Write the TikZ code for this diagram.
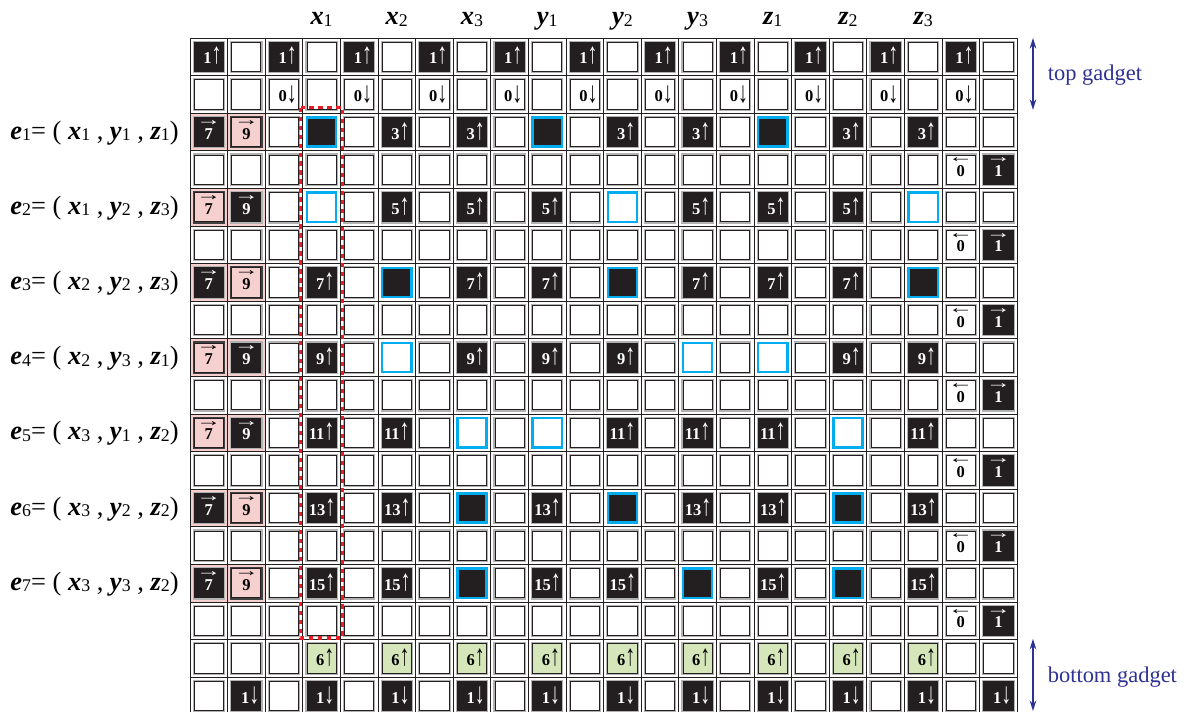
\documentclass[tikz,border=0pt]{standalone}
\usepackage{fontspec}
\usepackage{graphicx}
\setmainfont{Liberation Serif}
\usetikzlibrary{arrows.meta, calc}

\definecolor{cellblack}{RGB}{35,31,32}
\definecolor{pinkcell}{RGB}{245,208,206}
\definecolor{greencell}{RGB}{213,231,186}
\definecolor{cyanedge}{RGB}{0,174,239}
\definecolor{gadgetblue}{RGB}{46,49,146}
\definecolor{framered}{RGB}{237,28,36}

% переменная с индексом
\newcommand{\vsub}[2]{\textbf{\textit{#1}}\raisebox{-1pt}{\fontsize{13.5}{13.5}\selectfont #2}}
% вытянутые стрелки
\newcommand{\upar}{\scalebox{1.2}[1.8]{↑}}
\newcommand{\dnar}{\raisebox{-0.5pt}{\scalebox{1.2}[1.8]{↓}}}
% цифра со стрелкой сверху
\newcommand{\ovarr}[2]{\ooalign{\hfil#2\hfil\cr\hfil\raisebox{10.5pt}{\fontsize{10}{10}\selectfont\scalebox{1.9}[1.3]{#1}}\hfil\cr}}

\begin{document}
\begin{tikzpicture}[
        >={Stealth[length=8pt, width=5pt]},
        cell/.style={minimum size=0.775cm, inner sep=0pt, line width=0.7pt},
        box/.style={cell, fill=white, draw=cellblack, preaction={draw=gray!60, line width=2.6pt}},
        blk/.style={box, fill=cellblack, text=white},
        pnk/.style={cell, fill=pinkcell, draw=cellblack, preaction={draw=black!75, line width=2.6pt}},
        grn/.style={box, fill=greencell},
        hit/.style={cell, fill=white, draw=cyanedge, line width=1.8pt},
        num/.style={text width=0.68cm, align=right, text height=0.45cm, text depth=0.07cm, font=\fontsize{12.5}{13}\selectfont\bfseries},
        dirn/.style={text height=0.45cm, text depth=0.07cm, font=\fontsize{12.5}{13}\selectfont\bfseries},
        gadget/.style={<->, gadgetblue, line width=1.1pt},
        gadgetlabel/.style={anchor=base west, text=gadgetblue, font=\fontsize{17}{17}\selectfont},
        collabel/.style={anchor=base, font=\fontsize{20}{20}\selectfont},
        edgelabel/.style={anchor=base east, font=\fontsize{20}{20}\selectfont}
    ]

        \useasboundingbox (-5.053,1.011) rectangle (26.463,-17.899);

% Подписи столбцов
        \foreach \cl/\v/\s in {3/x/1, 5/x/2, 7/x/3, 9/y/1, 11/y/2, 13/y/3, 15/z/1, 17/z/2, 19/z/3}
            \node[collabel] (lab-\v\s) at (\cl+0.5,0.35) {\vsub{\v}{\s}};

% Подписи рёбер
        \node[edgelabel] (e1) at (-0.18,-2.69) {\vsub{e}{1}= ( \vsub{x}{1} , \vsub{y}{1} , \vsub{z}{1})};
        \node[edgelabel] (e2) at (-0.18,-4.69) {\vsub{e}{2}= ( \vsub{x}{1} , \vsub{y}{2} , \vsub{z}{3})};
        \node[edgelabel] (e3) at (-0.18,-6.69) {\vsub{e}{3}= ( \vsub{x}{2} , \vsub{y}{2} , \vsub{z}{3})};
        \node[edgelabel] (e4) at (-0.18,-8.69) {\vsub{e}{4}= ( \vsub{x}{2} , \vsub{y}{3} , \vsub{z}{1})};
        \node[edgelabel] (e5) at (-0.18,-10.69) {\vsub{e}{5}= ( \vsub{x}{3} , \vsub{y}{1} , \vsub{z}{2})};
        \node[edgelabel] (e6) at (-0.18,-12.69) {\vsub{e}{6}= ( \vsub{x}{3} , \vsub{y}{2} , \vsub{z}{2})};
        \node[edgelabel] (e7) at (-0.18,-14.69) {\vsub{e}{7}= ( \vsub{x}{3} , \vsub{y}{3} , \vsub{z}{2})};

% Верхний гаджет
        \foreach \cl in {0,2,...,20}{
            \pgfmathtruncatemacro\nx{\cl+1}
            \node[blk, num] (c-0-\cl) at (\cl+0.5,-0.5) {1\upar};
            \node[box] (c-0-\nx) at (\nx+0.5,-0.5) {};
            \ifnum\cl>0
                \node[box, num] (c-1-\cl) at (\cl+0.5,-1.5) {0\dnar};
            \else
                \node[box] (c-1-\cl) at (\cl+0.5,-1.5) {};
            \fi
            \node[box] (c-1-\nx) at (\nx+0.5,-1.5) {};
        }

% Строки рёбер: номер строки / число / тёмная строка / столбцы переменных
        \foreach \rw/\val/\dark/\ha/\hb/\hc in {2/3/1/3/9/15, 4/5/0/3/11/19, 6/7/1/5/11/19, 8/9/0/5/13/15, 10/11/0/7/9/17, 12/13/1/7/11/17, 14/15/1/7/13/17}{
            \fill[pinkcell] (0,-\rw) rectangle (2,-\rw-1);
            \ifnum\dark=1
                \node[blk, dirn] (c-\rw-0) at (0.5,-\rw-0.5) {\ovarr{→}{7}};
                \node[pnk, dirn] (c-\rw-1) at (1.5,-\rw-0.5) {\ovarr{→}{9}};
            \else
                \node[pnk, dirn] (c-\rw-0) at (0.5,-\rw-0.5) {\ovarr{→}{7}};
                \node[blk, dirn] (c-\rw-1) at (1.5,-\rw-0.5) {\ovarr{→}{9}};
            \fi
            \foreach \cl in {2,...,21}{
                \pgfmathtruncatemacro\ishit{(\cl==\ha)||(\cl==\hb)||(\cl==\hc)}
                \pgfmathtruncatemacro\isodd{and(mod(\cl,2)==1, \cl<20)}
                \ifnum\ishit=1
                    \ifnum\dark=1
                        \node[hit, fill=cellblack] (c-\rw-\cl) at (\cl+0.5,-\rw-0.5) {};
                    \else
                        \node[hit] (c-\rw-\cl) at (\cl+0.5,-\rw-0.5) {};
                    \fi
                \else\ifnum\isodd=1
                    \node[blk, num] (c-\rw-\cl) at (\cl+0.5,-\rw-0.5) {\val\upar};
                \else
                    \node[box] (c-\rw-\cl) at (\cl+0.5,-\rw-0.5) {};
                \fi\fi
            }
        }

% Строки между рёбрами
        \foreach \rw in {3,5,...,15}{
            \foreach \cl in {0,...,19}
                \node[box] (c-\rw-\cl) at (\cl+0.5,-\rw-0.5) {};
            \node[box, dirn] (c-\rw-20) at (20.5,-\rw-0.5) {\ovarr{←}{0}};
            \node[blk, dirn] (c-\rw-21) at (21.5,-\rw-0.5) {\ovarr{→}{1}};
        }

% Нижний гаджет
        \foreach \cl in {0,2,...,20}{
            \pgfmathtruncatemacro\nx{\cl+1}
            \pgfmathtruncatemacro\isgrn{and(\nx>1, \nx<21)}
            \node[box] (c-16-\cl) at (\cl+0.5,-16.5) {};
            \ifnum\isgrn=1
                \node[grn, num] (c-16-\nx) at (\nx+0.5,-16.5) {6\upar};
            \else
                \node[box] (c-16-\nx) at (\nx+0.5,-16.5) {};
            \fi
            \node[box] (c-17-\cl) at (\cl+0.5,-17.5) {};
            \node[blk, num] (c-17-\nx) at (\nx+0.5,-17.5) {1\dnar};
        }

% Сетка
        \draw[cellblack, line width=0.7pt] (0,0) grid (22,-18);

% Выделенный столбец x1
        \draw[framered, line width=2.6pt, dash pattern=on 3.2pt off 3.6pt] (2.94,-1.85) rectangle (4.06,-15.96);

% Гаджеты справа
        \coordinate (topS) at (22.42,0);
        \coordinate (topE) at (22.42,-1.91);
        \draw[gadget] (topS) -- (topE);
        \node[gadgetlabel] (toplab) at (22.69,-1.12) {top gadget};
        \coordinate (botS) at (22.42,-15.98);
        \coordinate (botE) at (22.42,-17.9);
        \draw[gadget] (botS) -- (botE);
        \node[gadgetlabel] (botlab) at (22.69,-17.13) {bottom gadget};
    \end{tikzpicture}
\end{document}
